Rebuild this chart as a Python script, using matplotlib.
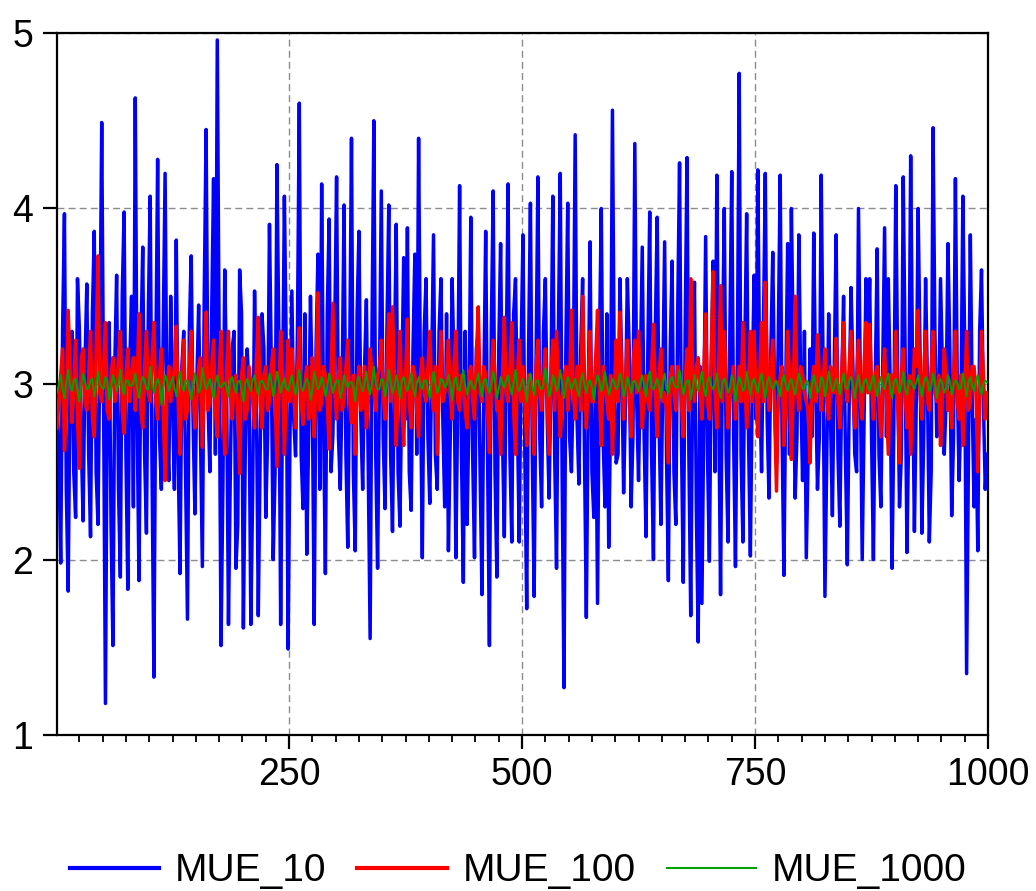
import numpy as np
import matplotlib
matplotlib.use("Agg")
import matplotlib.pyplot as plt
from matplotlib import font_manager
from matplotlib.ticker import MultipleLocator, FixedLocator

# ---- data ----
# "_odd": observations 1, 5, 9, ...; "_even": observations 3, 7, 11, ...
mue_10_odd = [
    2.95, 1.98, 3.97, 1.82, 3.3, 2.24, 3.32, 2.22, 3.57, 2.13,
    3.87, 2.2, 4.49, 1.18, 3.35, 1.51, 3.62, 1.9, 3.98, 1.83,
    3.5, 4.63, 1.88, 3.78, 2.15, 4.07, 1.33, 4.28, 2.4, 4.2, 2.45,
    2.9, 3.82, 1.92, 3.3, 1.66, 3.73, 2.26, 3.45, 1.96, 4.45,
    2.5, 4.17, 4.96, 1.51, 3.65, 1.63, 3.2, 1.95, 3.65, 1.61,
    3.2, 1.63, 3.53, 1.68, 3.4, 2.24, 3.91, 2.0, 4.25, 1.63, 4.07, 1.49,
    3.53, 2.59, 4.6, 2.29, 2.03, 3.5, 1.63, 3.74, 4.14, 1.92,
    3.94, 2.7, 4.18, 2.4, 4.02, 2.07, 4.4, 2.05, 3.87, 2.4,
    3.48, 1.55, 4.5, 1.95, 4.1, 2.29, 4.02, 2.16, 3.91, 2.19, 3.72,
    3.89, 2.28, 3.74, 4.4, 2.01, 3.6, 2.32, 3.85, 2.4, 3.6,
    2.3, 2.05, 3.6, 2.01, 4.13, 1.87, 2.2, 3.95, 2.01, 3.3,
    1.8, 3.87, 1.51, 4.1, 1.9, 3.8, 2.13, 4.14, 2.1, 3.6, 2.1,
    3.85, 1.72, 4.03, 1.79, 4.18, 2.3, 3.6, 2.35, 4.07, 1.95,
    4.2, 1.27, 4.03, 2.5, 4.42, 2.43, 3.6, 1.67, 3.81, 2.24,
    1.75, 4.0, 2.3, 2.07, 4.56, 2.55, 3.6, 2.38, 3.6, 2.3, 4.37,
    2.45, 3.78, 2.13, 3.98, 2.0, 3.95, 2.2, 3.81, 1.88, 3.7,
    2.2, 4.26, 1.87, 4.29, 1.68, 3.58, 1.53, 1.75, 3.84, 1.99,
    3.7, 4.19, 1.8, 4.0, 2.1, 4.21, 1.96, 4.77, 2.1, 3.97, 2.02,
    3.62, 4.22, 2.5, 4.2, 2.35, 3.75, 2.55, 4.19, 1.91, 3.8,
    4.0, 2.35, 3.85, 2.45, 2.01, 3.2, 3.86, 2.4, 4.19, 1.79,
    3.4, 2.25, 3.85, 2.19, 3.5, 1.97, 3.55, 2.6, 4.0, 2.0, 3.6,
    3.6, 2.0, 3.77, 2.3, 3.89, 3.6, 1.95, 4.13, 2.3, 4.18,
    2.04, 4.3, 2.16, 4.0, 2.15, 3.6, 2.1, 4.46, 2.7, 3.6,
    2.6, 3.8, 2.25, 4.17, 2.45, 4.07, 1.35, 3.85, 2.3, 2.05, 3.65, 2.4,
]
mue_10_even = [
    2.6, 3.3, 2.4, 3.0, 2.5, 3.6, 2.7, 3.1, 2.6, 3.4,
    2.5, 3.2, 2.9, 3.0, 2.2, 3.1, 2.4, 3.5, 2.6, 3.1,
    2.3, 2.8, 3.2, 2.6, 3.4, 2.5, 3.1, 2.7, 3.3, 2.8, 3.5,
    2.4, 2.6, 3.1, 2.5, 3.3, 2.8, 3.0, 2.7, 3.5, 2.9,
    3.4, 2.6, 3.2, 2.4, 3.0, 2.5, 3.3, 2.2, 3.4, 2.6,
    3.0, 2.4, 2.9, 2.6, 3.2, 2.7, 3.1, 2.5, 3.3, 2.9, 3.2, 2.7,
    2.8, 3.3, 2.6, 3.4, 2.7, 2.9, 3.2, 2.4, 2.8, 3.4,
    2.5, 3.3, 2.7, 3.0, 2.6, 3.1, 2.5, 3.4, 2.8, 3.1,
    2.5, 3.3, 2.6, 3.0, 2.7, 3.3, 2.6, 3.1, 2.5, 3.0, 2.8,
    2.5, 3.2, 2.6, 3.0, 3.3, 2.7, 3.1, 2.6, 3.3, 2.8,
    3.4, 2.7, 3.1, 2.9, 2.6, 3.3, 2.8, 2.6, 3.2, 2.5,
    3.0, 2.6, 3.3, 2.5, 3.2, 2.7, 3.1, 2.6, 3.4, 2.8, 3.2,
    2.6, 3.2, 2.6, 3.1, 2.7, 3.3, 2.8, 3.0, 2.6, 3.3,
    2.5, 3.2, 2.7, 3.0, 2.8, 3.2, 2.6, 2.9, 2.5, 3.1,
    3.2, 2.7, 3.4, 2.8, 3.0, 2.6, 3.1, 2.9, 3.2, 2.7, 2.9,
    3.1, 2.7, 3.2, 2.6, 3.3, 2.8, 3.0, 2.6, 3.2, 2.5,
    3.4, 2.7, 3.3, 2.6, 3.0, 2.3, 3.1, 2.8, 2.6, 3.1,
    2.5, 2.9, 3.2, 2.6, 3.3, 2.7, 3.1, 2.6, 3.2, 2.7, 3.0,
    2.8, 3.0, 3.3, 2.8, 3.2, 2.9, 3.3, 2.7, 3.0, 2.6,
    3.2, 2.7, 3.0, 3.3, 2.6, 2.7, 3.0, 2.7, 3.1, 2.6,
    2.8, 3.1, 2.6, 3.0, 2.6, 2.9, 3.1, 2.5, 3.0, 2.8, 3.2,
    2.7, 3.0, 2.6, 3.1, 2.7, 3.0, 2.8, 3.1, 2.6, 3.2,
    2.8, 3.1, 2.9, 3.2, 2.7, 3.0, 2.5, 3.3, 2.8, 3.1,
    2.9, 3.2, 2.7, 3.0, 2.9, 3.2, 2.6, 2.9, 2.8, 3.3, 2.9, 2.6,
]

mue_100_odd = [
    2.75, 3.05, 2.62, 3.42, 2.78, 3.25, 2.52, 3.2, 2.85, 3.3,
    2.7, 3.73, 2.9, 3.35, 2.8, 3.15, 2.95, 3.3, 2.72, 3.2,
    3.05, 2.85, 3.4, 2.75, 3.3, 2.9, 3.35, 2.8, 3.2, 2.45, 3.1,
    3.0, 3.33, 2.6, 3.25, 2.85, 3.3, 2.75, 3.1, 2.64, 3.41,
    2.9, 3.25, 2.7, 3.3, 2.6, 3.3, 2.8, 3.05, 2.49, 3.15,
    2.85, 3.0, 2.75, 3.38, 2.75, 3.1, 2.9, 3.2, 2.53, 3.3, 2.6, 3.25,
    3.2, 2.75, 3.32, 2.77, 3.1, 2.85, 2.7, 3.52, 2.9, 3.05,
    2.63, 3.46, 2.8, 3.15, 2.9, 3.25, 2.78, 2.6, 3.1, 2.9,
    2.75, 3.2, 2.95, 3.05, 3.25, 2.8, 3.4, 3.44, 2.65, 3.3, 2.65,
    3.37, 2.75, 3.05, 2.7, 3.15, 2.9, 3.3, 2.85, 2.6, 3.3,
    2.95, 3.25, 2.8, 3.3, 2.85, 3.0, 2.75, 3.1, 2.8, 3.44,
    2.9, 3.05, 2.61, 3.25, 2.85, 2.6, 3.38, 2.9, 3.35, 2.6, 3.25,
    3.1, 2.65, 3.05, 2.6, 3.25, 2.85, 3.2, 2.6, 3.25, 3.3,
    2.7, 3.05, 2.85, 3.42, 2.8, 3.1, 3.5, 2.75, 3.3, 2.9,
    3.42, 2.65, 3.0, 2.8, 2.6, 3.25, 3.41, 2.8, 3.25, 2.7, 3.25,
    3.3, 2.75, 3.05, 2.85, 3.34, 2.7, 3.2, 2.95, 2.55, 3.1,
    2.85, 3.05, 2.7, 3.2, 3.6, 2.9, 3.15, 2.8, 3.4, 2.8,
    3.64, 2.75, 3.56, 3.3, 2.75, 3.0, 2.8, 3.1, 3.35, 2.75, 3.3,
    3.3, 2.7, 3.35, 3.58, 2.85, 3.25, 2.39, 3.05, 2.65, 3.3,
    2.57, 3.5, 2.85, 3.05, 2.9, 2.55, 3.1, 3.28, 2.85, 3.2,
    2.8, 3.05, 3.26, 2.75, 3.35, 2.9, 3.3, 2.75, 3.25, 2.8, 3.35,
    3.34, 2.8, 3.1, 2.7, 3.2, 2.6, 3.05, 3.3, 2.55, 3.2,
    2.75, 2.6, 3.2, 3.42, 2.8, 3.3, 2.85, 3.3, 2.9, 2.65,
    3.2, 2.85, 2.75, 3.3, 2.8, 2.65, 3.3, 2.9, 3.1, 2.5, 3.3, 2.8,
]
mue_100_even = [
    2.9, 3.2, 2.85, 3.1, 3.0, 2.8, 3.15, 2.9, 3.05, 2.8,
    3.2, 2.95, 3.1, 2.85, 3.05, 2.9, 3.15, 2.85, 3.05, 2.9,
    3.15, 3.0, 2.85, 3.1, 2.95, 3.15, 2.9, 3.05, 2.85, 2.95, 2.9,
    3.1, 2.9, 3.0, 2.8, 3.1, 2.95, 2.9, 3.15, 3.0, 2.85,
    3.1, 2.85, 3.05, 2.9, 3.1, 2.95, 3.0, 2.85, 3.05, 2.8,
    3.1, 2.9, 3.15, 2.9, 3.05, 2.85, 3.1, 2.95, 2.9, 3.05, 2.95, 2.9,
    2.95, 3.05, 2.9, 3.0, 2.8, 3.15, 3.05, 2.85, 3.1, 2.9,
    3.05, 2.95, 3.05, 2.85, 3.1, 2.9, 3.05, 2.95, 2.85, 3.1,
    2.9, 3.05, 2.85, 3.1, 2.95, 3.1, 2.9, 3.05, 2.95, 2.9, 3.05,
    2.9, 3.1, 2.85, 3.05, 2.95, 3.1, 2.95, 3.1, 2.95, 2.9,
    3.05, 2.95, 3.1, 2.9, 3.05, 2.85, 3.05, 2.9, 3.15, 2.95,
    3.1, 2.85, 3.0, 3.05, 2.9, 3.05, 2.95, 3.1, 2.85, 3.05, 2.9,
    2.9, 3.05, 2.85, 3.1, 2.95, 3.0, 2.9, 3.05, 2.85, 3.0,
    2.9, 3.1, 3.0, 2.95, 3.1, 2.85, 3.05, 3.0, 2.9, 3.15,
    2.95, 3.1, 2.9, 3.05, 2.95, 2.9, 3.05, 3.0, 2.9, 3.1, 2.95,
    3.0, 2.95, 2.9, 3.1, 2.95, 3.05, 2.9, 2.85, 3.05, 2.95,
    3.1, 2.9, 3.0, 2.85, 3.05, 3.1, 2.95, 3.05, 2.9, 3.15,
    2.95, 3.1, 2.9, 3.05, 2.9, 3.1, 2.95, 2.9, 3.05, 3.0, 2.9,
    2.95, 3.05, 2.9, 3.1, 3.05, 2.85, 2.9, 3.1, 2.9, 3.05,
    2.95, 3.0, 3.1, 2.95, 2.85, 3.0, 2.9, 3.05, 3.0, 2.9,
    3.1, 2.95, 2.9, 3.05, 3.0, 3.1, 2.95, 3.05, 2.9, 3.1, 2.95,
    3.0, 3.05, 2.9, 3.0, 2.9, 3.05, 2.95, 2.9, 3.05, 2.95,
    3.05, 2.9, 3.1, 2.95, 3.05, 2.9, 3.1, 2.95, 3.05, 2.9,
    3.05, 2.95, 3.05, 2.9, 3.05, 2.95, 2.85, 3.1, 2.95, 2.9, 3.05, 2.95,
]

mue_1000_odd = [
    2.95, 3.05, 2.92, 3.08, 2.96, 3.03, 2.9, 3.06, 2.97, 3.02,
    2.93, 3.07, 2.98, 3.04, 2.91, 3.05, 2.96, 3.08, 2.94, 3.02,
    2.99, 3.06, 2.92, 3.04, 2.97, 3.1, 2.95, 3.03, 2.88, 3.05, 2.96,
    3.04, 2.93, 3.07, 2.96, 3.02, 2.91, 3.06, 2.95, 3.09, 2.97,
    3.03, 2.92, 3.05, 2.98, 3.01, 2.93, 3.04, 2.95, 3.02, 2.9,
    3.03, 2.96, 3.05, 2.94, 3.02, 2.97, 3.06, 2.93, 3.07, 2.95, 3.03, 2.96,
    3.05, 2.94, 3.08, 2.96, 3.03, 2.91, 3.07, 2.97, 3.04, 2.93,
    3.06, 2.95, 3.02, 2.92, 3.05, 2.98, 3.01, 2.9, 3.04, 2.96,
    3.07, 2.94, 3.1, 2.97, 3.03, 2.93, 3.08, 2.95, 3.05, 2.92, 3.04,
    2.96, 3.06, 2.93, 3.04, 2.97, 3.02, 2.92, 3.07, 2.95, 3.03,
    2.98, 3.05, 2.91, 3.04, 2.96, 3.08, 2.94, 3.02, 2.97, 3.06,
    2.93, 3.03, 2.95, 3.07, 2.92, 3.04, 2.98, 3.05, 2.94, 3.08, 2.96,
    3.03, 2.9, 3.06, 2.94, 3.02, 2.97, 3.09, 2.93, 3.05, 2.96,
    3.08, 2.92, 3.04, 2.97, 3.03, 2.93, 3.06, 2.95, 3.02, 2.91,
    3.05, 2.96, 3.07, 2.94, 3.03, 2.97, 3.06, 2.93, 3.04, 2.95, 3.02,
    2.96, 3.05, 2.93, 3.07, 2.97, 3.03, 2.92, 3.06, 2.95, 3.04,
    2.98, 3.08, 2.94, 3.02, 2.91, 3.05, 2.96, 3.07, 2.93, 3.04,
    2.97, 3.06, 2.92, 3.03, 2.95, 3.05, 2.9, 3.04, 2.96, 3.07, 2.94,
    3.03, 2.95, 3.06, 2.92, 3.04, 2.97, 3.02, 2.93, 3.05, 2.96,
    3.03, 2.94, 3.06, 2.97, 3.02, 2.92, 3.05, 2.95, 3.04, 2.93,
    3.07, 2.96, 3.03, 2.94, 3.06, 2.97, 3.04, 2.92, 3.05, 2.95, 3.03,
    2.96, 3.05, 2.93, 3.04, 2.97, 3.06, 2.92, 3.03, 2.95, 3.07,
    2.94, 3.02, 2.97, 3.05, 2.93, 3.04, 2.96, 3.06, 2.92, 3.03,
    2.95, 3.05, 2.94, 3.02, 2.97, 3.06, 2.93, 3.04, 2.96, 3.05, 2.94, 3.02,
]
mue_1000_even = [
    3.0, 2.97, 3.01, 2.99, 3.02, 2.96, 3.0, 3.01, 2.98, 3.03,
    2.99, 3.0, 2.97, 3.02, 2.98, 3.01, 3.0, 2.97, 3.02, 2.99,
    3.01, 2.98, 3.0, 3.02, 2.97, 3.01, 2.99, 3.0, 2.98, 3.02, 3.0,
    2.98, 3.01, 2.99, 3.02, 2.97, 3.0, 3.01, 2.98, 3.02, 3.0,
    2.97, 3.01, 2.99, 3.0, 2.98, 3.02, 2.99, 3.01, 2.97, 3.0,
    2.99, 3.02, 2.98, 3.01, 3.0, 2.97, 3.02, 2.99, 3.01, 3.0, 2.98, 3.01,
    2.99, 3.02, 2.98, 3.0, 3.01, 2.97, 3.02, 2.99, 3.0, 2.98,
    3.01, 2.99, 3.02, 2.97, 3.0, 3.01, 2.98, 3.02, 2.99, 3.0,
    2.98, 3.01, 3.0, 2.97, 3.02, 2.99, 3.01, 2.98, 3.0, 3.02, 2.99,
    3.01, 2.98, 3.0, 2.99, 3.02, 2.97, 3.01, 3.0, 2.98, 3.02,
    2.99, 3.0, 3.01, 2.97, 3.02, 2.99, 3.0, 2.98, 3.01, 2.99,
    3.02, 2.98, 3.0, 3.01, 2.97, 3.0, 3.02, 2.99, 3.01, 2.98, 3.0,
    2.98, 3.01, 2.99, 3.02, 2.98, 3.0, 3.01, 2.97, 3.02, 2.99,
    3.0, 2.98, 3.01, 3.0, 2.97, 3.02, 2.99, 3.01, 2.98, 3.0,
    3.02, 2.99, 3.0, 2.98, 3.01, 2.99, 3.02, 2.97, 3.0, 3.01, 2.99,
    3.01, 2.99, 3.02, 2.98, 3.0, 2.99, 3.01, 2.97, 3.02, 3.0,
    2.98, 3.01, 2.99, 3.02, 2.98, 3.0, 3.01, 2.98, 3.02, 2.99,
    3.0, 2.97, 3.01, 3.0, 2.98, 3.02, 2.99, 3.01, 2.98, 3.0, 3.01,
    2.99, 3.02, 2.98, 3.01, 2.99, 3.0, 2.97, 3.02, 2.99, 3.01,
    2.98, 3.0, 3.02, 2.98, 3.01, 2.99, 3.0, 2.97, 3.02, 2.99,
    3.01, 2.98, 3.0, 3.01, 2.98, 3.02, 2.99, 3.0, 2.98, 3.01, 2.99,
    3.01, 2.98, 3.0, 2.99, 3.02, 2.98, 3.01, 2.99, 3.0, 2.97,
    3.02, 2.99, 3.01, 2.98, 3.0, 3.02, 2.98, 3.01, 2.99, 3.0,
    2.98, 3.02, 2.99, 3.01, 2.98, 3.0, 3.01, 2.99, 3.02, 2.98, 3.0, 3.01,
]

series_names = ["MUE_10", "MUE_100", "MUE_1000"]
x_ticks = [250, 500, 750, 1000]
y_ticks = [1, 2, 3, 4, 5]

# ---- font ----
avail = {f.name for f in font_manager.fontManager.ttflist}
fam = "Liberation Sans Narrow" if "Liberation Sans Narrow" in avail else "Liberation Sans"
plt.rcParams["font.family"] = [fam, "DejaVu Sans"]


def merge(odd, even):
    out = np.empty(len(odd) + len(even))
    out[0::2] = odd
    out[1::2] = even
    return out


mue_10 = merge(mue_10_odd, mue_10_even)
mue_100 = merge(mue_100_odd, mue_100_even)
mue_1000 = merge(mue_1000_odd, mue_1000_even)
obs = np.arange(len(mue_10)) * 2 + 1

fig = plt.figure(figsize=(10.36, 8.91), dpi=100)
ax = fig.add_axes([0.055, 0.175, 0.8987, 0.788])

ax.plot(obs, mue_10, color="#0000ff", lw=2.5, label=series_names[0], zorder=3)
ax.plot(obs, mue_100, color="#ff0000", lw=2.5, label=series_names[1], zorder=4)
ax.plot(obs, mue_1000, color="#00a000", lw=1.4, label=series_names[2], zorder=5)

ax.set_xlim(1, 1000)
ax.set_ylim(1, 5)
ax.xaxis.set_major_locator(FixedLocator(x_ticks))
ax.xaxis.set_minor_locator(MultipleLocator(25))
ax.yaxis.set_major_locator(FixedLocator(y_ticks))

ax.grid(True, which="major", color="#8c8c8c", linestyle=(0, (5, 3)), lw=1.0, zorder=1)

for s in ax.spines.values():
    s.set_linewidth(1.6)
    s.set_color("black")

ax.tick_params(axis="x", which="major", direction="out", length=10, width=1.6,
               labelsize=27, pad=6)
ax.tick_params(axis="x", which="minor", direction="out", length=5, width=1.3)
ax.tick_params(axis="y", which="major", direction="out", length=10, width=1.6,
               labelsize=27, pad=7)

leg = ax.legend(loc="center", bbox_to_anchor=(0.5, 0.022),
                bbox_transform=fig.transFigure, ncol=3,
                frameon=False, fontsize=28, handlelength=2.3,
                columnspacing=0.8, handletextpad=0.4, borderpad=0.1)
for h, w in zip(leg.get_lines(), [3.0, 3.0, 1.5]):
    h.set_linewidth(w)

fig.savefig("out.png", dpi=100)
